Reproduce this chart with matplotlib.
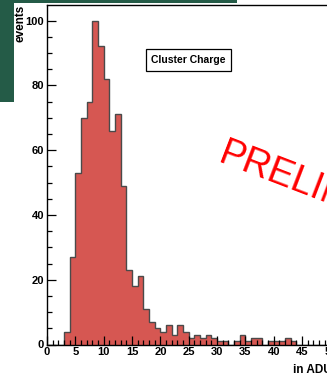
import numpy as np
import matplotlib
matplotlib.use("Agg")
import matplotlib.pyplot as plt
from matplotlib.ticker import MultipleLocator
from matplotlib.patches import Rectangle

# cluster charge histogram, 1 ADU bins from 0 to 50
bin_edges = list(range(0, 51))
counts = [0, 0, 0, 4, 27, 53, 70, 75, 100, 92,
          82, 66, 71, 49, 23, 18, 21, 11, 7, 5,
          4, 6, 3, 6, 4, 2, 3, 2, 3, 2,
          1, 1, 0, 1, 3, 1, 2, 2, 0, 1,
          1, 1, 2, 1, 0, 0, 0, 0, 0, 0]
x_ticks = [0, 5, 10, 15, 20, 25, 30, 35, 40, 45, 50]
y_ticks = [0, 20, 40, 60, 80, 100]

W, H = 327, 376
plt.rcParams['font.family'] = ['Liberation Sans', 'DejaVu Sans']

fig = plt.figure(figsize=(W / 100, H / 100), dpi=100)

# green slide background bits
fig.patches.append(Rectangle((0, 1 - 102 / H), 14 / W, 102 / H, transform=fig.transFigure,
                             facecolor="#245b47", edgecolor="none", zorder=0))
fig.patches.append(Rectangle((14 / W, 1 - 2.5 / H), 223 / W, 2.5 / H, transform=fig.transFigure,
                             facecolor="#245b47", edgecolor="none", zorder=0))

ax = fig.add_axes([47 / W, 1 - 344.5 / H, (330.5 - 47) / W, (344.5 - 5) / H])
ax.stairs(counts, bin_edges, fill=True, facecolor="#d65752", edgecolor="none")
ax.stairs(counts, bin_edges, color="#4a4a4a", linewidth=1.0)

ax.set_xlim(0, 50)
ax.set_ylim(0, 104.8)
ax.set_xticks(x_ticks)
ax.set_yticks(y_ticks)
ax.xaxis.set_minor_locator(MultipleLocator(1))
ax.yaxis.set_minor_locator(MultipleLocator(5))
ax.tick_params(which="both", direction="in", width=0.9, color="black",
               labelsize=8, pad=2)
ax.tick_params(which="major", length=6.5)
ax.tick_params(which="minor", length=3.5)
for lab in ax.get_xticklabels() + ax.get_yticklabels():
    lab.set_fontweight("bold")
for sp in ax.spines.values():
    sp.set_linewidth(1.0)

ax.text(188.5 / W, 1 - 60 / H, "Cluster Charge", transform=fig.transFigure,
        ha="center", va="center", fontsize=7.5, fontweight="bold",
        bbox=dict(boxstyle="square,pad=0.55", facecolor="white", edgecolor="black", linewidth=0.9))

fig.text(14.5 / W, 1 - 5 / H, "events", rotation=90, ha="left", va="top",
         fontsize=8.5, fontweight="bold")
fig.text(293 / W, 1 - 373 / H, "in ADU", ha="left", va="baseline",
         fontsize=8.5, fontweight="bold")

fig.text(216.7 / W, 1 - 161.7 / H, "PRELIMINARY", rotation=-21, rotation_mode="anchor",
         ha="left", va="baseline", fontsize=27, color="red")

fig.savefig("out.png", dpi=100)
